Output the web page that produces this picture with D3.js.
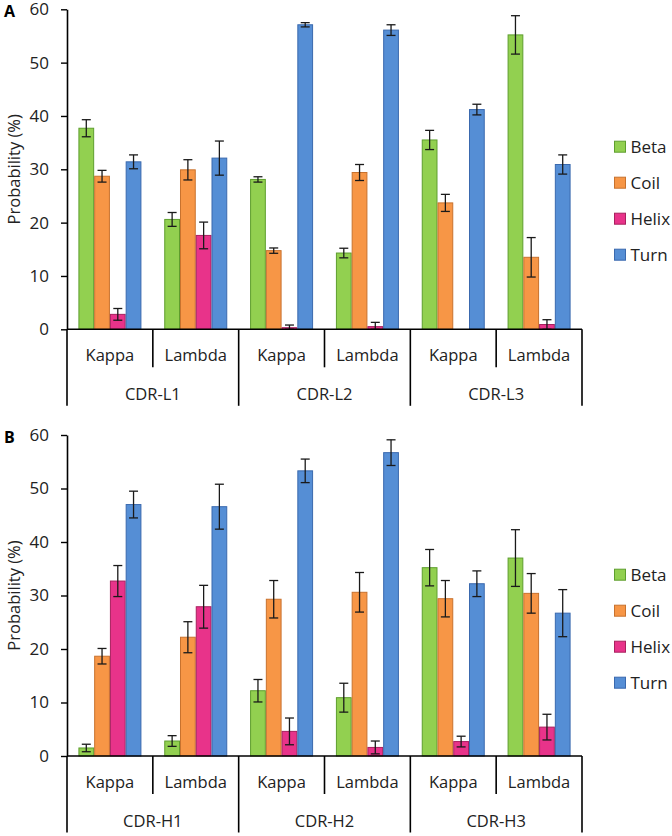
<!DOCTYPE html>
<html><head><meta charset="utf-8">
<script src="https://cdn.jsdelivr.net/npm/d3@7"></script>
<style>html,body{margin:0;padding:0;background:#fff}svg{display:block}</style>
</head><body>
<script>
// ---------- DATA ----------
const series = ["Beta", "Coil", "Helix", "Turn"];
const chains = ["Kappa", "Lambda"];
const groupsA = ["CDR-L1", "CDR-L2", "CDR-L3"];
const groupsB = ["CDR-H1", "CDR-H2", "CDR-H3"];
const yTicks = [0, 10, 20, 30, 40, 50, 60];

// order: G1 Kappa, G1 Lambda, G2 Kappa, G2 Lambda, G3 Kappa, G3 Lambda
const betaA  = [37.7, 20.6, 28.1, 14.3, 35.5, 55.2];
const betaAErr = [1.6, 1.3, 0.5, 0.9, 1.8, 3.6];
const coilA  = [28.7, 29.9, 14.75, 29.4, 23.7, 13.5];
const coilAErr = [1.1, 1.9, 0.5, 1.5, 1.6, 3.7];
const helixA = [2.8, 17.6, 0.3, 0.5, 0, 0.9];
const helixAErr = [1.1, 2.5, 0.5, 0.8, 0, 0.9];
const turnA  = [31.4, 32.1, 57.1, 56.1, 41.2, 30.9];
const turnAErr = [1.3, 3.2, 0.4, 1.0, 1.0, 1.8];

const betaB  = [1.5, 2.8, 12.2, 10.9, 35.2, 37.0];
const betaBErr = [0.7, 1.0, 2.1, 2.7, 3.4, 5.3];
const coilB  = [18.65, 22.2, 29.3, 30.6, 29.4, 30.4];
const coilBErr = [1.45, 2.9, 3.5, 3.7, 3.4, 3.7];
const helixB = [32.7, 27.9, 4.6, 1.6, 2.7, 5.4];
const helixBErr = [2.9, 4.0, 2.5, 1.2, 1.0, 2.4];
const turnB  = [47.0, 46.6, 53.3, 56.7, 32.2, 26.7];
const turnBErr = [2.5, 4.2, 2.2, 2.4, 2.4, 4.4];

// ---------- STYLE ----------
const fills   = {Beta: "#92D050", Coil: "#F79646", Helix: "#E8338A", Turn: "#558ED5"};
const strokes = {Beta: "#5E9E2E", Coil: "#C8722E", Helix: "#A8215F", Turn: "#3A69AE"};
const FONT = "'Open Sans', 'DejaVu Sans', sans-serif";

const W = 672, H = 836;
const svg = d3.select("body").append("svg").attr("width", W).attr("height", H)
  .style("font-family", FONT);

const panels = [
  {label: "A", groups: groupsA, top: 9.3, bottom: 329.3, legendTop: 146.7,
   vals: [betaA, coilA, helixA, turnA], errs: [betaAErr, coilAErr, helixAErr, turnAErr]},
  {label: "B", groups: groupsB, top: 435, bottom: 756, legendTop: 574.7,
   vals: [betaB, coilB, helixB, turnB], errs: [betaBErr, coilBErr, helixBErr, turnBErr]}
];

const x0 = 67, x1 = 582;

panels.forEach(p => {
  const g = svg.append("g");
  const subs = [];
  p.groups.forEach(gr => chains.forEach(c => subs.push(gr + "|" + c)));

  const x = d3.scaleBand().domain(subs).range([x0, x1]).paddingInner(0.266).paddingOuter(0.133);
  const xs = d3.scaleBand().domain(series).range([0, x.bandwidth()]);
  const y = d3.scaleLinear().domain([0, 60]).range([p.bottom, p.top]);

  // bars
  series.forEach((s, si) => {
    const vals = p.vals[si], errs = p.errs[si];
    const data = subs.map((k, i) => ({k, v: vals[i], e: errs[i]}));
    g.selectAll(null).data(data.filter(d => d.v > 0)).enter().append("rect")
      .attr("x", d => x(d.k) + xs(s) + 0.5)
      .attr("y", d => y(d.v))
      .attr("width", xs.bandwidth() - 1)
      .attr("height", d => y(0) - y(d.v))
      .attr("fill", fills[s]).attr("stroke", strokes[s]).attr("stroke-width", 1);
    // error bars
    const eb = g.selectAll(null).data(data.filter(d => d.e > 0)).enter().append("g")
      .attr("stroke", "#1a1a1a").attr("stroke-width", 1.3);
    const cx = d => x(d.k) + xs(s) + xs.bandwidth() / 2;
    eb.append("line").attr("x1", cx).attr("x2", cx)
      .attr("y1", d => y(d.v + d.e)).attr("y2", d => y(Math.max(0, d.v - d.e)));
    eb.append("line").attr("x1", d => cx(d) - 4.5).attr("x2", d => cx(d) + 4.5)
      .attr("y1", d => y(d.v + d.e)).attr("y2", d => y(d.v + d.e));
    eb.append("line").attr("x1", d => cx(d) - 4.5).attr("x2", d => cx(d) + 4.5)
      .attr("y1", d => y(Math.max(0, d.v - d.e))).attr("y2", d => y(Math.max(0, d.v - d.e)));
  });

  // y axis
  const ya = g.append("g").attr("transform", `translate(${x0},0)`)
    .call(d3.axisLeft(y).tickValues(yTicks).tickSize(6).tickSizeOuter(0).tickPadding(12));
  ya.select(".domain").attr("stroke", "#000").attr("stroke-width", 1.6);
  ya.selectAll(".tick line").attr("stroke", "#000").attr("stroke-width", 1.4);
  ya.selectAll(".tick text").attr("font-size", 17).attr("fill", "#222").attr("font-family", FONT);

  // x axis baseline
  g.append("line").attr("x1", x0).attr("x2", x1).attr("y1", y(0)).attr("y2", y(0))
    .attr("stroke", "#000").attr("stroke-width", 1.6);

  // separators
  const half = x.step() * x.paddingInner() / 2;
  subs.forEach((k, i) => {
    const bx = i === 0 ? x0 : x(k) - half;
    const long = i % 2 === 0;
    g.append("line").attr("x1", bx).attr("x2", bx)
      .attr("y1", y(0)).attr("y2", y(0) + (long ? 76.5 : 38))
      .attr("stroke", "#000").attr("stroke-width", 1.6);
  });
  g.append("line").attr("x1", x1).attr("x2", x1).attr("y1", y(0)).attr("y2", y(0) + 76.5)
    .attr("stroke", "#000").attr("stroke-width", 1.6);

  // sub labels
  g.selectAll(null).data(subs).enter().append("text")
    .attr("x", d => x(d) + x.bandwidth() / 2).attr("y", y(0) + 32)
    .attr("text-anchor", "middle").attr("font-size", 16.5).attr("fill", "#222")
    .text(d => d.split("|")[1]);
  // group labels
  p.groups.forEach((gr, gi) => {
    const a = x(gr + "|Kappa") - half, b = x(gr + "|Lambda") + x.bandwidth() + half;
    g.append("text").attr("x", (a + b) / 2).attr("y", y(0) + 71)
      .attr("text-anchor", "middle").attr("font-size", 16.5).attr("fill", "#222").text(gr);
  });

  // y title
  g.append("text").attr("transform", `translate(13,${(p.top + p.bottom) / 2}) rotate(-90)`)
    .attr("text-anchor", "middle").attr("dominant-baseline", "central")
    .attr("font-size", 16.5).attr("fill", "#222").text("Probability (%)");

  // panel label
  g.append("text").attr("x", 4).attr("y", p.top + 1.5).attr("dominant-baseline", "central")
    .attr("font-size", 16).attr("font-weight", "bold").attr("fill", "#000").text(p.label);

  // legend
  series.forEach((s, si) => {
    const cy = p.legendTop + si * 36;
    g.append("rect").attr("x", 614.5).attr("y", cy - 5.5).attr("width", 11).attr("height", 11)
      .attr("fill", fills[s]).attr("stroke", strokes[s]).attr("stroke-width", 1);
    g.append("text").attr("x", 630.5).attr("y", cy).attr("dominant-baseline", "central")
      .attr("font-size", 17).attr("fill", "#222").text(s);
  });
});
</script>
</body></html>
